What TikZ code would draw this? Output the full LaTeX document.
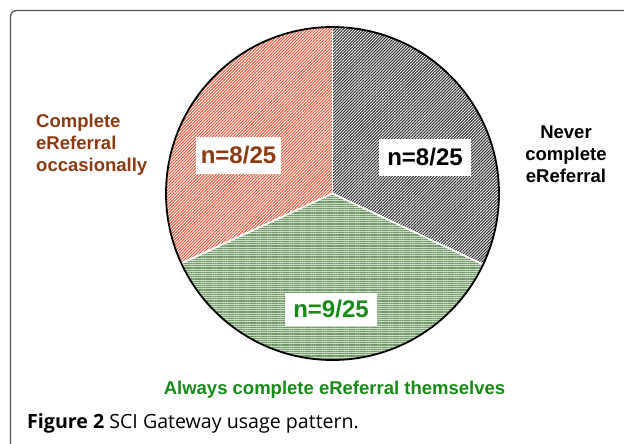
\documentclass[tikz,border=0pt]{standalone}
\usepackage{fontspec}
\setmainfont{Liberation Sans}
\newfontfamily\capfont{Open Sans}
\usetikzlibrary{patterns.meta}
\definecolor{brownlbl}{HTML}{8B3A12}
\definecolor{greenlbl}{HTML}{178A17}
\definecolor{redhatch}{HTML}{DE5A40}
\definecolor{grayhatch}{HTML}{2E2E2E}
\definecolor{greenhatch}{HTML}{6F9866}
\definecolor{greenbg}{HTML}{CCDCC7}
\definecolor{framegray}{HTML}{555555}
\begin{document}
\begin{tikzpicture}[x=1pt,y=-1pt,
  lbl/.style={font=\fontsize{18.5}{22}\selectfont\bfseries, inner sep=0pt},
  nbox/.style={fill=white, font=\fontsize{24}{28}\selectfont\bfseries, minimum height=37pt, inner sep=0pt},
  sep/.style={white, line width=1.8pt},
]
\useasboundingbox (0,0) rectangle (624,444);
\draw[framegray, line width=1.3pt, rounded corners=6pt] (10.5,700) -- (10.5,10.5) -- (700,10.5);
\begin{scope}[shift={(332.5,193.5)}, y=1pt]
  \def\R{166.5}
  \coordinate (c) at (0,0);
  \path[pattern={Lines[angle=45,distance=2.1pt,line width=1.05pt]}, pattern color=grayhatch]
    (c) -- (-25.2:\R) arc[start angle=-25.2, end angle=90, radius=\R] -- cycle;
  \path[pattern={Lines[angle=45,distance=2.1pt,line width=1.05pt]}, pattern color=redhatch]
    (c) -- (90:\R) arc[start angle=90, end angle=204.8, radius=\R] -- cycle;
  \fill[greenbg] (c) -- (204.8:\R) arc[start angle=204.8, end angle=334.8, radius=\R] -- cycle;
  \path[pattern={Lines[angle=0,distance=2.2pt,line width=1.1pt]}, pattern color=greenhatch]
    (c) -- (204.8:\R) arc[start angle=204.8, end angle=334.8, radius=\R] -- cycle;
  \coordinate (e1) at (90:\R);
  \coordinate (e2) at (-25.2:\R);
  \coordinate (e3) at (204.8:\R);
  \draw[sep] (c) -- (e1);
  \draw[sep] (c) -- (e2);
  \draw[sep] (c) -- (e3);
  \draw[black, line width=1.8pt] (c) circle[radius=\R];
\end{scope}
\node[nbox, minimum width=85pt, text=brownlbl] (nred) at (238.5,155) {n=8/25};
\node[nbox, minimum width=92pt] (ngray) at (425,157.5) {n=8/25};
\node[nbox, minimum width=92pt, minimum height=33pt, text=greenlbl] (ngreen) at (331,309.5) {n=9/25};
\node[lbl, text=brownlbl, align=left, anchor=base west] (locc) at (36,171) {Complete\\eReferral\\occasionally};
\node[lbl, align=center, anchor=base] (lnever) at (566,182) {Never\\complete\\eReferral};
\node[lbl, text=greenlbl, anchor=base] (lalways) at (334.5,394) {Always complete eReferral themselves};
\node[font=\capfont\fontsize{19.6}{23}\selectfont, anchor=base west, inner sep=0pt] (cap) at (27,428) {\textbf{Figure 2} SCI Gateway usage pattern.};
\end{tikzpicture}
\end{document}
